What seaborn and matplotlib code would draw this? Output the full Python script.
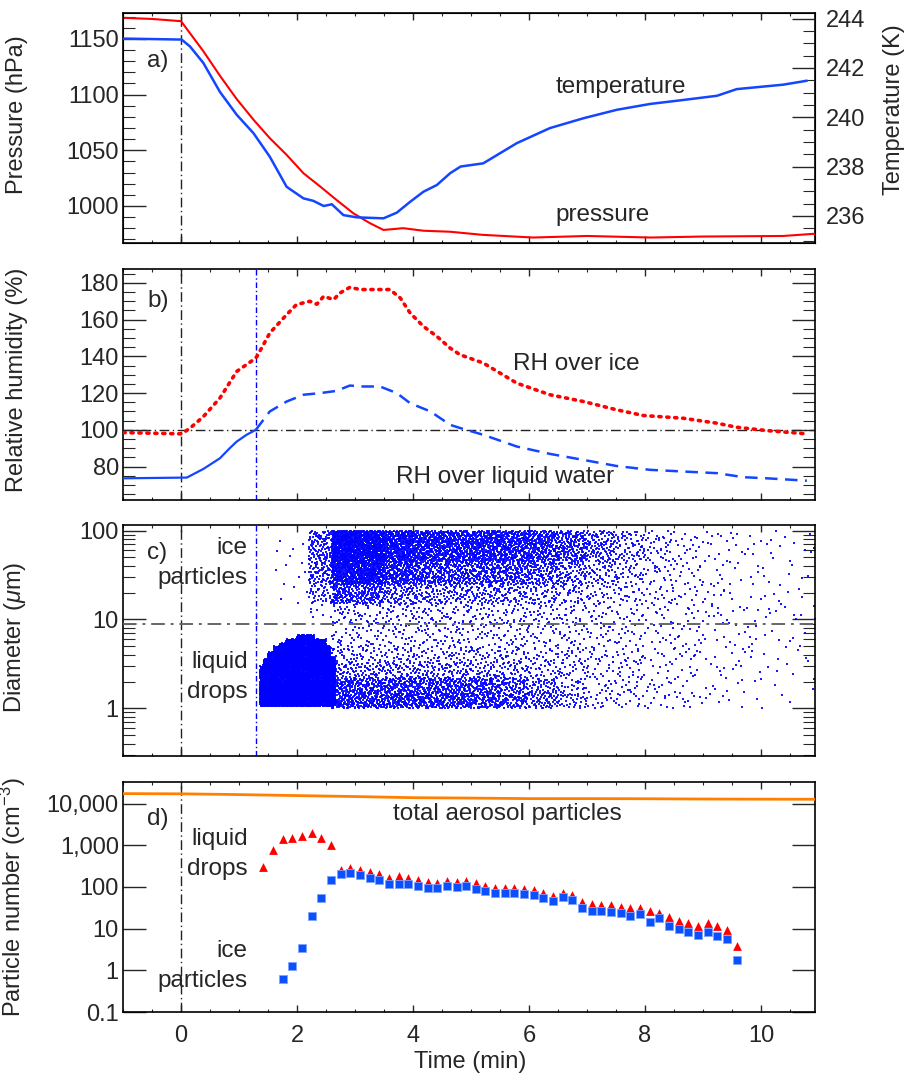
import numpy as np
import pandas as pd
import matplotlib
matplotlib.use('Agg')
import matplotlib.pyplot as plt
import seaborn as sns
from matplotlib.ticker import MultipleLocator, LogLocator, FixedLocator, FixedFormatter, NullFormatter

# ---- panel a: pressure and temperature
p_time = [-1.0, -0.5, 0.0, 0.385, 0.67, 0.96, 1.25, 1.53, 1.82, 2.11, 2.40, 2.68, 2.97, 3.26,
          3.49, 3.83, 4.18, 4.64, 5.2, 6.07, 7.0, 8.1, 9.0, 10.38, 10.93]
p_val = [1169, 1168, 1166, 1139, 1117, 1096, 1077.4, 1060.9, 1045.9, 1029.4, 1017.4,
         1005.4, 993.4, 984.4, 978.4, 980, 977.7, 976.8, 974, 971.6, 973, 971.6, 972.5, 973, 975]
t_time = [-1.0, 0.01, 0.155, 0.385, 0.67, 0.96, 1.25, 1.53, 1.82, 2.11, 2.28, 2.46, 2.6, 2.8,
          3.03, 3.49, 3.72, 3.95, 4.18, 4.41, 4.64, 4.82, 5.21, 5.79, 6.36, 6.94, 7.51, 8.09,
          8.66, 9.24, 9.58, 10.38, 10.79]
t_val = [243.19, 243.15, 242.87, 242.2, 241.03, 240.1, 239.35, 238.4, 237.18, 236.71, 236.61,
         236.4, 236.47, 236.03, 235.94, 235.9, 236.13, 236.57, 236.98, 237.25, 237.73, 238.0,
         238.13, 238.95, 239.56, 239.96, 240.3, 240.54, 240.7, 240.87, 241.14, 241.32, 241.48]

# ---- panel b: relative humidity
rhi_time = [-1.0, 0.01, 0.155, 0.385, 0.67, 0.96, 1.25, 1.31, 1.53, 1.82, 1.99, 2.22, 2.34,
            2.46, 2.63, 2.74, 2.91, 3.09, 3.37, 3.6, 3.78, 3.95, 4.18, 4.41, 4.64, 4.81, 5.21,
            5.79, 6.36, 6.94, 7.51, 7.97, 8.66, 9.24, 9.58, 10.1, 10.79]
rhi_val = [98.5, 97.8, 100.9, 107.2, 117.3, 131.8, 138.2, 140, 152.7, 162.7, 168.2, 170, 168.4,
           172.7, 170.9, 174.5, 177.6, 176.4, 176.4, 176.4, 171.8, 163.6, 156.3, 150.9, 144.5,
           140.9, 136.4, 125.4, 119.1, 115.4, 110.9, 107.8, 106.3, 103.6, 101.4, 99.6, 97.8]
rhw_time = [-1.0, 0.1, 0.385, 0.67, 0.84, 0.96, 1.13, 1.29, 1.53, 1.82, 2.11, 2.4, 2.68, 2.91,
            3.14, 3.43, 3.72, 3.95, 4.3, 4.64, 4.82, 5.21, 5.79, 6.36, 6.94, 7.51, 8.09, 8.66,
            9.24, 9.7, 10.1, 10.79]
rhw_val = [73.6, 74, 78.7, 84.5, 90, 93.6, 97.3, 100, 110, 115.4, 119.1, 120, 121.2, 124.1,
           123.6, 123.6, 120, 114.5, 110, 102.7, 100.9, 97.3, 90.9, 86.9, 83.6, 80.3, 78.2,
           77.3, 76.4, 74.2, 73.6, 72.3]
rh_start_time = 1.29

# ---- panel c: particle counts per cell (time bin x diameter band), read from the density
cell_t_edges = [2.2, 2.6, 3.0, 3.5, 4.0, 4.5, 5.0, 5.5, 6.0, 6.5, 7.0, 7.5, 8.0, 8.5, 9.0,
                9.5, 10.0, 10.5, 10.93]
band_d_edges = [1.0, 1.5, 2.2, 3.3, 5.0, 9.0, 15.0, 25.0, 45.0, 70.0, 100.0]
band_counts = [
    [0, 110, 130, 130, 130, 125, 110, 90, 70, 36, 16, 14, 10, 9, 4, 3, 2, 1],
    [0, 90, 105, 105, 100, 100, 90, 70, 50, 28, 15, 13, 9, 8, 4, 3, 2, 1],
    [0, 40, 48, 48, 46, 45, 38, 36, 26, 24, 16, 15, 9, 8, 5, 4, 2, 2],
    [0, 24, 28, 28, 28, 28, 28, 27, 23, 22, 16, 15, 10, 10, 6, 6, 3, 3],
    [0, 20, 25, 25, 25, 25, 25, 25, 24, 23, 19, 18, 13, 13, 8, 8, 5, 4],
    [7, 22, 27, 27, 27, 27, 27, 26, 25, 21, 18, 16, 13, 10, 8, 7, 5, 4],
    [40, 110, 120, 80, 65, 60, 60, 55, 48, 38, 28, 22, 17, 11, 7, 5, 4, 3],
    [80, 260, 320, 200, 160, 150, 140, 130, 110, 80, 50, 35, 22, 13, 8, 6, 4, 3],
    [60, 240, 290, 200, 170, 160, 150, 140, 130, 100, 60, 38, 21, 12, 8, 5, 4, 3],
    [50, 210, 250, 180, 150, 150, 140, 125, 115, 85, 50, 30, 17, 10, 6, 4, 3, 3],
]
# liquid-drop cluster: time slices, upper diameter of each slice, points per slice
drop_t_edges = [1.36, 1.42, 1.5, 1.6, 1.7, 1.8, 2.0, 2.3, 2.5, 2.58, 2.66]
drop_top = [3.0, 3.6, 4.3, 5.0, 5.4, 6.0, 6.7, 6.0, 5.0, 3.8]
drop_n = [140, 220, 320, 350, 370, 780, 1240, 780, 280, 230]
drop_bottom = 1.05
# a few early ice particles
early_ice = (1.6, 2.2, 15.0, 80.0, 15)
ice_line_d = 9.0

# ---- panel d: number concentrations
drops_time = [1.42, 1.58, 1.75, 1.91, 2.08, 2.25, 2.41, 2.58, 2.75, 2.91, 3.08, 3.25, 3.41,
              3.58, 3.75, 3.91, 4.08, 4.25, 4.41, 4.58, 4.75, 4.91, 5.08, 5.24, 5.41, 5.58,
              5.74, 5.91, 6.08, 6.24, 6.41, 6.58, 6.74, 6.91, 7.08, 7.24, 7.41, 7.58, 7.74,
              7.91, 8.08, 8.24, 8.41, 8.58, 8.74, 8.91, 9.08, 9.24, 9.41, 9.58]
drops_val = [302, 787, 1413, 1528, 1644, 1977, 1528, 1000, 261, 286, 261, 225, 209, 167, 180,
             167, 150, 132, 124, 140, 132, 140, 124, 104, 96, 96, 96, 90, 86, 72, 62, 73, 63,
             43, 39, 37, 36, 32.5, 31, 31, 26.5, 23.8, 19, 15.3, 13.7, 11.8, 14, 11.5, 9.1, 3.84]
ice_time = [1.75, 1.91, 2.08, 2.25, 2.41, 2.58, 2.75, 2.91, 3.08, 3.25, 3.41, 3.58, 3.75, 3.91,
            4.08, 4.25, 4.41, 4.58, 4.75, 4.91, 5.08, 5.24, 5.41, 5.58, 5.74, 5.91, 6.08,
            6.24, 6.41, 6.58, 6.74, 6.91, 7.08, 7.24, 7.41, 7.58, 7.74, 7.91, 8.08, 8.24,
            8.41, 8.58, 8.74, 8.91, 9.08, 9.24, 9.41, 9.58]
ice_val = [0.63, 1.27, 3.43, 19.8, 54, 150, 201, 214, 190, 161, 150, 116, 116, 116, 104, 95, 95,
           104, 98, 104, 90, 79, 72, 72, 73, 67, 65, 53, 46, 56, 48, 32, 27, 26, 25.5, 23.8,
           20.5, 23, 14.5, 17.7, 11.5, 9.8, 8.2, 7.0, 8.2, 6.6, 5.6, 1.74]
aer_time = [-1.0, 0.0, 1.0, 2.0, 3.0, 4.0, 5.0, 6.0, 7.0, 8.0, 9.0, 10.0, 10.93]
aer_val = [17400, 17200, 16500, 15600, 14800, 13900, 13600, 13200, 13200, 13100, 12900, 12800,
           12750]

RED = '#ff0000'
BLUE = '#1446ff'
DOT_BLUE = '#0000ff'
ORANGE = '#ff8000'
DASHDOT = (7, 2.5, 1, 2.5)
FS = 17
FS_TXT = 17.5

sns.set_style('ticks')
plt.rcParams['font.family'] = ['Liberation Sans', 'DejaVu Sans']
plt.rcParams['mathtext.fontset'] = 'custom'
plt.rcParams['mathtext.rm'] = 'Liberation Sans'
plt.rcParams['mathtext.it'] = 'Liberation Sans:italic'
plt.rcParams['font.size'] = FS
plt.rcParams['axes.edgecolor'] = 'black'


def style_axes(ax, show_x=False, right=True):
    ax.set_xlim(-1, 10.93)
    ax.xaxis.set_major_locator(MultipleLocator(2))
    ax.xaxis.set_minor_locator(MultipleLocator(0.5))
    ax.tick_params(axis='x', which='major', direction='in', length=5, width=1,
                   top=True, bottom=True, pad=9, labelsize=FS)
    ax.tick_params(axis='x', which='minor', direction='in', length=2.5, width=0.8,
                   top=True, bottom=True)
    ax.tick_params(axis='y', which='major', direction='in', length=16.5, width=1,
                   pad=3, labelsize=FS, right=right)
    ax.tick_params(axis='y', which='minor', direction='in', length=8.5, width=0.8, right=right)
    for sp in ax.spines.values():
        sp.set_visible(True)
        sp.set_linewidth(1.2)
    if not show_x:
        ax.tick_params(axis='x', labelbottom=False)
    ax.axvline(0, color='#222222', lw=1, dashes=DASHDOT, zorder=1)


fig = plt.figure(figsize=(9.1, 10.78), dpi=100)
L, W = 0.1352, 0.7604
ax_a = fig.add_axes([L, 0.7746, W, 0.2134])
ax_b = fig.add_axes([L, 0.5362, W, 0.2143])
ax_c = fig.add_axes([L, 0.2987, W, 0.2143])
ax_d = fig.add_axes([L, 0.0612, W, 0.2134])

# ---------------- a) pressure / temperature
ax_t = ax_a.twinx()
sns.lineplot(x=p_time, y=p_val, ax=ax_a, color=RED, lw=1.5, zorder=3)
sns.lineplot(x=t_time, y=t_val, ax=ax_t, color=BLUE, lw=1.8, zorder=3)
style_axes(ax_a, right=False)
ax_a.set_ylim(966.7, 1173.4)
ax_a.yaxis.set_major_locator(MultipleLocator(50))
ax_a.yaxis.set_minor_locator(MultipleLocator(10))
ax_a.set_ylabel('Pressure (hPa)', fontsize=FS)
ax_a.yaxis.set_label_coords(-0.137, 0.56)
ax_t.set_ylim(234.9, 244.23)
ax_t.yaxis.set_major_locator(MultipleLocator(2))
ax_t.yaxis.set_minor_locator(MultipleLocator(0.5))
ax_t.tick_params(axis='y', which='major', direction='in', length=16.5, width=1, pad=8,
                 labelsize=FS)
ax_t.tick_params(axis='y', which='minor', direction='in', length=8.5, width=0.8)
ax_t.set_ylabel('Temperature (K)', fontsize=FS, rotation=90)
ax_t.yaxis.set_label_coords(1.098, 0.58)
ax_a.text(0.035, 0.79, 'a)', transform=ax_a.transAxes, va='center', fontsize=FS_TXT)
ax_a.text(0.625, 0.68, 'temperature', transform=ax_a.transAxes, va='center', fontsize=FS_TXT)
ax_a.text(0.625, 0.12, 'pressure', transform=ax_a.transAxes, va='center', fontsize=FS_TXT)

# ---------------- b) relative humidity
rhw = pd.DataFrame({'time': rhw_time, 'rh': rhw_val})
sns.lineplot(x=rhi_time, y=rhi_val, ax=ax_b, color=RED, lw=2.6, zorder=3)
ax_b.lines[-1].set_dashes((0.6, 1.6))
ax_b.lines[-1].set_dash_capstyle('round')
sns.lineplot(data=rhw[rhw.time <= rh_start_time], x='time', y='rh', ax=ax_b, color=BLUE,
             lw=1.6, zorder=3)
sns.lineplot(data=rhw[rhw.time >= rh_start_time], x='time', y='rh', ax=ax_b, color=BLUE,
             lw=1.8, zorder=3)
ax_b.lines[-1].set_dashes((5, 3))
style_axes(ax_b)
ax_b.set_ylim(61.8, 187.6)
ax_b.yaxis.set_major_locator(MultipleLocator(20))
ax_b.yaxis.set_minor_locator(MultipleLocator(5))
ax_b.axhline(100, color='#222222', lw=1, dashes=DASHDOT, zorder=1)
ax_b.axvline(rh_start_time, color=DOT_BLUE, lw=1, dashes=(4, 2, 1, 2), zorder=1)
ax_b.set_ylabel('Relative humidity (%)', fontsize=FS)
ax_b.yaxis.set_label_coords(-0.137, 0.52)
ax_b.text(0.035, 0.86, 'b)', transform=ax_b.transAxes, va='center', fontsize=FS_TXT)
ax_b.text(0.564, 0.59, 'RH over ice', transform=ax_b.transAxes, va='center', fontsize=FS_TXT)
ax_b.text(0.394, 0.10, 'RH over liquid water', transform=ax_b.transAxes, va='center',
          fontsize=FS_TXT)

# ---------------- c) particle diameters
# individual particle positions are not readable, so each cell's count is laid out with a
# Halton sequence (deterministic, no random numbers)


def halton(idx, base):
    f, r, i = 1.0, np.zeros(len(idx)), idx.copy()
    while np.any(i > 0):
        f /= base
        r += f * (i % base)
        i //= base
    return r


def fill_cell(t0, t1, d0, d1, n, start):
    k = np.arange(start, start + n)
    u, v = halton(k, 2), halton(k, 3)
    ld0, ld1 = np.log10(d0), np.log10(d1)
    return t0 + u * (t1 - t0), 10 ** (ld0 + v * (ld1 - ld0))


pts_t, pts_d = [], []
offset = 1
for j, n in enumerate(drop_n):
    tt, dd = fill_cell(drop_t_edges[j], drop_t_edges[j + 1], drop_bottom, drop_top[j], n, offset)
    pts_t.append(tt)
    pts_d.append(dd)
    offset += n
tt, dd = fill_cell(*early_ice[:4], early_ice[4], offset)
pts_t.append(tt)
pts_d.append(dd)

# ice / sparse field: thin one Halton point set by the cell densities
t_e = np.array(cell_t_edges)
ld_e = np.log10(band_d_edges)
dens = np.array(band_counts) / np.outer(np.diff(ld_e), np.diff(t_e))
n_cand = int(dens.max() * (t_e[-1] - t_e[0]) * (ld_e[-1] - ld_e[0]))
k = np.arange(20000, 20000 + n_cand)
ct = t_e[0] + halton(k, 2) * (t_e[-1] - t_e[0])
cl = ld_e[0] + halton(k, 3) * (ld_e[-1] - ld_e[0])
keep_w = halton(k, 5)
it = np.clip(np.searchsorted(t_e, ct) - 1, 0, len(t_e) - 2)
il = np.clip(np.searchsorted(ld_e, cl) - 1, 0, len(ld_e) - 2)
keep = keep_w < dens[il, it] / dens.max()
pts_t.append(ct[keep])
pts_d.append(10 ** cl[keep])

particles = pd.DataFrame({'time': np.concatenate(pts_t), 'diameter': np.concatenate(pts_d)})
sns.scatterplot(data=particles, x='time', y='diameter', ax=ax_c, color=DOT_BLUE, marker='s',
                s=3, linewidth=0, alpha=0.9, zorder=2)
ax_c.set_yscale('log')
style_axes(ax_c)
ax_c.set_ylim(0.29, 116)
ax_c.yaxis.set_major_locator(FixedLocator([1, 10, 100]))
ax_c.yaxis.set_major_formatter(FixedFormatter(['1', '10', '100']))
ax_c.yaxis.set_minor_locator(LogLocator(base=10, subs=np.arange(2, 10)))
ax_c.yaxis.set_minor_formatter(NullFormatter())
ax_c.axhline(ice_line_d, color='#666666', lw=1.4, dashes=(7, 3, 1.5, 3), zorder=3)
ax_c.axvline(rh_start_time, color=DOT_BLUE, lw=1, dashes=(4, 2, 1, 2), zorder=1)
ax_c.set_xlabel('')
ax_c.set_ylabel(r'Diameter ($\mu$m)', fontsize=FS)
ax_c.yaxis.set_label_coords(-0.137, 0.515)
ax_c.text(0.035, 0.88, 'c)', transform=ax_c.transAxes, va='center', fontsize=FS_TXT)
for label, y in [('ice', 0.90), ('particles', 0.77), ('liquid', 0.408), ('drops', 0.278)]:
    ax_c.text(0.180, y, label, transform=ax_c.transAxes, va='center', ha='right',
              fontsize=FS_TXT)

# ---------------- d) number concentrations
sns.lineplot(x=aer_time, y=aer_val, ax=ax_d, color=ORANGE, lw=2, zorder=3)
sns.scatterplot(x=drops_time, y=drops_val, ax=ax_d, color=RED, marker='^', s=40,
                linewidth=0, zorder=4)
sns.scatterplot(x=ice_time, y=ice_val, ax=ax_d, color='#0a50ff', marker='s', s=30,
                edgecolor='#7fa3ff', linewidth=0.6, zorder=5)
ax_d.set_yscale('log')
style_axes(ax_d, show_x=True)
ax_d.set_ylim(0.1, 33100)
ax_d.yaxis.set_major_locator(FixedLocator([0.1, 1, 10, 100, 1000, 10000]))
ax_d.yaxis.set_major_formatter(FixedFormatter(['0.1', '1', '10', '100', '1,000', '10,000']))
ax_d.yaxis.set_minor_locator(LogLocator(base=10, subs=np.arange(2, 10)))
ax_d.yaxis.set_minor_formatter(NullFormatter())
ax_d.set_ylabel(r'Particle number (cm$^{\mathregular{-3}}$)', fontsize=FS)
ax_d.yaxis.set_label_coords(-0.137, 0.5)
ax_d.set_xlabel('Time (min)', fontsize=FS)
ax_d.xaxis.set_label_coords(0.501, -0.17)
ax_d.text(0.035, 0.84, 'd)', transform=ax_d.transAxes, va='center', fontsize=FS_TXT)
ax_d.text(0.555, 0.86, 'total aerosol particles', transform=ax_d.transAxes, va='center',
          ha='center', fontsize=FS_TXT)
for label, y in [('liquid', 0.75), ('drops', 0.62), ('ice', 0.265), ('particles', 0.135)]:
    ax_d.text(0.180, y, label, transform=ax_d.transAxes, va='center', ha='right',
              fontsize=FS_TXT)

for ax in (ax_a, ax_b, ax_c):
    ax.set_xlabel('')

fig.savefig('out.png', dpi=100)
